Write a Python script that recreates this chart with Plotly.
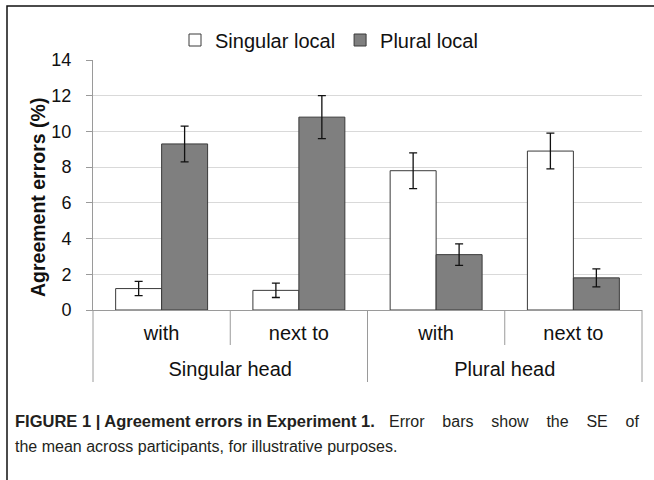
import plotly.graph_objects as go

heads = ["Singular head", "Singular head", "Plural head", "Plural head"]
preps = ["with", "next to", "with", "next to"]
singular_local = [1.2, 1.1, 7.8, 8.9]
singular_se = [0.4, 0.4, 1.0, 1.0]
plural_local = [9.3, 10.8, 3.1, 1.8]
plural_se = [1.0, 1.2, 0.6, 0.5]
y_ticks = [0, 2, 4, 6, 8, 10, 12, 14]

FONT = "Liberation Sans, Arial, sans-serif"

# category labels shown at 20px; second level pushed one (small) line lower
big = "<span style='font-size:20px'>{}</span>"
x_cats = [["<br>" + big.format(h) for h in heads], [big.format(p) for p in preps]]

fig = go.Figure()
fig.add_trace(go.Bar(
    x=x_cats, y=singular_local, name="Singular local",
    marker=dict(color="white", line=dict(color="#3a3a3a", width=1)),
    error_y=dict(type="data", array=singular_se, color="#111", thickness=1.3, width=4),
))
fig.add_trace(go.Bar(
    x=x_cats, y=plural_local, name="Plural local",
    marker=dict(color="#7f7f7f", line=dict(color="#3a3a3a", width=1)),
    error_y=dict(type="data", array=plural_se, color="#111", thickness=1.3, width=4),
))

H = 250.0  # plot height px
def py(px):
    return (310 - px) / H
def pxr(px):
    return (px - 93) / 549.0

DIV = "#9a9a9a"
# dividers between prepositions (short) and between head groups / edges (long)
for xf in [0.25, 0.75]:
    fig.add_shape(type="line", xref="paper", yref="paper", x0=xf, x1=xf,
                  y0=0, y1=py(345), line=dict(color=DIV, width=1))
for xf in [0.0, 0.5, 1.0]:
    fig.add_shape(type="line", xref="paper", yref="paper", x0=xf, x1=xf,
                  y0=0, y1=py(382), line=dict(color=DIV, width=1))
# figure border
fig.add_shape(type="rect", xref="paper", yref="paper", x0=pxr(7), x1=pxr(700),
              y0=py(600), y1=py(6), line=dict(color="#111", width=1.5))

# y-axis title
fig.add_annotation(xref="paper", yref="paper", x=pxr(38), y=py(198), xanchor="center",
                   yanchor="middle", showarrow=False, textangle=-90,
                   text="<b>Agreement errors (%)</b>",
                   font=dict(family=FONT, size=19.5, color="#111"))

gap = "&nbsp;" * 4
rest = gap.join(["Error", "bars", "show", "the", "SE", "of"])
fig.add_annotation(xref="paper", yref="paper", x=pxr(13), y=py(421), xanchor="left",
                   yanchor="middle", showarrow=False, align="left",
                   text="<b>FIGURE 1 | Agreement errors in Experiment 1.</b>",
                   font=dict(family=FONT, size=16.5, color="#231f20"))
fig.add_annotation(xref="paper", yref="paper", x=pxr(641), y=py(421), xanchor="right",
                   yanchor="middle", showarrow=False, align="right",
                   text=rest, font=dict(family=FONT, size=16, color="#231f20"))
fig.add_annotation(xref="paper", yref="paper", x=pxr(13), y=py(446), xanchor="left",
                   yanchor="middle", showarrow=False, align="left",
                   text="the mean across participants, for illustrative purposes.",
                   font=dict(family=FONT, size=16, color="#231f20"))

fig.update_layout(
    width=654, height=480,
    margin=dict(l=93, r=12, t=60, b=170),
    paper_bgcolor="white", plot_bgcolor="white",
    font=dict(family=FONT, size=20, color="#111"),
    barmode="group", bargap=0.33, bargroupgap=0,
    showlegend=True,
    legend=dict(orientation="h", x=pxr(329), xanchor="center", y=py(40), yanchor="middle",
                font=dict(size=20), itemwidth=30, bgcolor="rgba(0,0,0,0)"),
    xaxis=dict(showline=True, linecolor=DIV, linewidth=1, ticks="",
               showdividers=False, tickfont=dict(size=16.5), ticklabelstandoff=9),
    yaxis=dict(range=[0, 14], tickvals=y_ticks, showline=True, linecolor=DIV,
               linewidth=1, ticks="outside", ticklen=6, tickcolor=DIV,
               gridcolor="#d9d9d9", gridwidth=1, zeroline=False,
               tickfont=dict(size=18), ticklabelstandoff=11),
)
fig.write_html("out.html", config={"displayModeBar": False},
               post_script="document.body.style.margin='0';")
